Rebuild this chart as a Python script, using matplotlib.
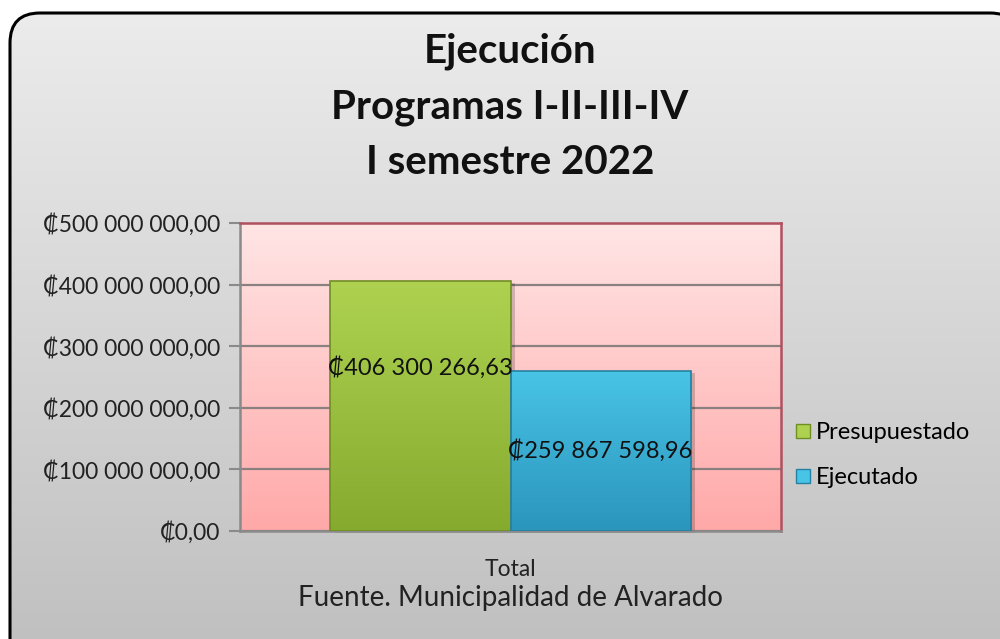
import numpy as np
import matplotlib
matplotlib.use("Agg")
import matplotlib.pyplot as plt
from matplotlib.patches import FancyBboxPatch, Rectangle
from matplotlib.lines import Line2D

plt.rcParams['font.family'] = ['Lato', 'DejaVu Sans']

# data
categories = ["Total"]
series_names = ["Presupuestado", "Ejecutado"]
values = [406300266.63, 259867598.96]
value_labels = ["₡406 300 266,63", "₡259 867 598,96"]
label_frac = [0.655, 0.5]  # where the data label sits, as fraction of bar height
yticks = [0, 100e6, 200e6, 300e6, 400e6, 500e6]
ytick_labels = ["₡0,00", "₡100 000 000,00", "₡200 000 000,00",
                "₡300 000 000,00", "₡400 000 000,00", "₡500 000 000,00"]
title = "Ejecución\nProgramas I-II-III-IV\nI semestre 2022"
source = "Fuente. Municipalidad de Alvarado"

bar_top = ["#aed250", "#48c4e6"]
bar_bot = ["#86aa2e", "#2b95bc"]
bar_edge = ["#6f8e25", "#2580a2"]

W, H = 1000, 639
fig = plt.figure(figsize=(W / 100, H / 100), dpi=100)

# background frame (pixel coordinates)
bg = fig.add_axes([0, 0, 1, 1])
bg.set_xlim(0, W)
bg.set_ylim(H, 0)
bg.axis('off')
frame = FancyBboxPatch((10, 13), 1010, 660, boxstyle="round,pad=0,rounding_size=30",
                       facecolor='none', edgecolor='black', linewidth=2.2, zorder=3)
bg.add_patch(frame)
grad = np.linspace(0, 1, 256).reshape(-1, 1)
g_top = np.array([0.925, 0.925, 0.925])
g_bot = np.array([0.745, 0.745, 0.745])
img = g_top + (g_bot - g_top) * grad[..., None]
im = bg.imshow(img, extent=[10, 1020, 673, 13], aspect='auto', zorder=1)
im.set_clip_path(frame)

bg.text(510, 107, title, ha='center', va='center', fontsize=29, fontweight='bold',
        linespacing=1.6, color='#111111', zorder=4)

# plot area
ax = fig.add_axes([0.24, 1 - 531 / H, 0.541, (531 - 223) / H])
ax.set_xlim(-0.5, 0.5)
ax.set_ylim(0, 500e6)

p_top = np.array([1.0, 0.90, 0.90])
p_bot = np.array([1.0, 0.66, 0.66])
pimg = p_bot + (p_top - p_bot) * grad[..., None]
ax.imshow(pimg, extent=[-0.5, 0.5, 0, 500e6], aspect='auto', origin='lower', zorder=0)

ax.set_yticks(yticks)
ax.set_yticklabels(ytick_labels, fontsize=16.5, color='#222222')
ax.yaxis.grid(True, color='#8a8080', linewidth=1.6, zorder=1)
ax.set_axisbelow(True)
ax.tick_params(axis='y', length=8, width=1.5, color='#8a8a8a', pad=6)
ax.set_xticks([])
ax.set_xlabel(categories[0], fontsize=16.5, color='#222222', labelpad=20)

for side in ['top', 'right']:
    ax.spines[side].set_color('#b05060')
    ax.spines[side].set_linewidth(1.8)
for side in ['left', 'bottom']:
    ax.spines[side].set_color('#8a8a8a')
    ax.spines[side].set_linewidth(1.8)

bar_w = 0.333
x0 = [-bar_w / 2, bar_w / 2]
for i, v in enumerate(values):
    left = x0[i] - bar_w / 2
    # shadow
    ax.add_patch(Rectangle((left + 0.008, -4e6), bar_w, v, facecolor='#000000',
                           alpha=0.18, edgecolor='none', zorder=2, clip_on=False))
    rect = Rectangle((left, 0), bar_w, v, facecolor='none', edgecolor=bar_edge[i],
                     linewidth=1.2, zorder=4)
    ax.add_patch(rect)
    c1 = np.array(matplotlib.colors.to_rgb(bar_top[i]))
    c2 = np.array(matplotlib.colors.to_rgb(bar_bot[i]))
    bimg = c2 + (c1 - c2) * grad[..., None]
    bi = ax.imshow(bimg, extent=[left, left + bar_w, 0, v], aspect='auto',
                   origin='lower', zorder=3)
    bi.set_clip_path(rect)
    ax.text(x0[i], v * label_frac[i], value_labels[i], ha='center', va='center',
            fontsize=17, color='#111111', zorder=5)
ax.set_xlim(-0.5, 0.5)
ax.set_ylim(0, 500e6)

handles = [Line2D([], [], marker='s', linestyle='none', markersize=10,
                  markerfacecolor=bar_top[i], markeredgecolor=bar_edge[i])
           for i in range(2)]
fig.legend(handles, series_names, loc='center left', bbox_to_anchor=(0.77, 1 - 455 / H),
           frameon=False, fontsize=17, handletextpad=0.05, labelspacing=1.0,
           handlelength=1.0)

bg.text(510, 598, source, ha='center', va='center', fontsize=20, color='#222222', zorder=4)

fig.savefig("out.png", dpi=100)
